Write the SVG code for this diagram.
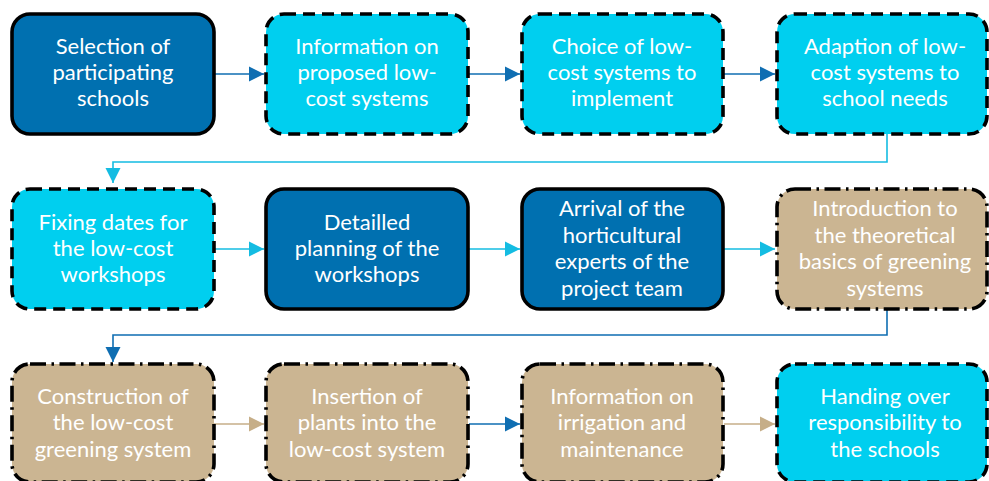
<svg xmlns="http://www.w3.org/2000/svg" width="989" height="481" viewBox="0 0 989 481">
<style>
.box{stroke:#000;stroke-width:3.6}
.solid{fill:#0070B0}
.dash{fill:#00CFEF;stroke-dasharray:12 7}
.dd{fill:#CBB592;stroke-dasharray:16 5.5 2.5 5.5}
text{font-family:Lato,"Open Sans","Liberation Sans",sans-serif;font-size:22px;fill:#fff;text-anchor:middle}
.c{fill:none;stroke-width:1.6}
.blue{stroke:#0F6EB2}
.cyan{stroke:#14BCE2}
.tan{stroke:#C6AE88}
</style>
<defs>
<marker id="aBlue" markerUnits="userSpaceOnUse" markerWidth="15" markerHeight="16" refX="15" refY="8" orient="auto"><path d="M0,0.5 L15,8 L0,15.5 Z" fill="#0F6EB2"/></marker>
<marker id="aCyan" markerUnits="userSpaceOnUse" markerWidth="15" markerHeight="16" refX="15" refY="8" orient="auto"><path d="M0,0.5 L15,8 L0,15.5 Z" fill="#14BCE2"/></marker>
<marker id="aTan" markerUnits="userSpaceOnUse" markerWidth="15" markerHeight="16" refX="15" refY="8" orient="auto"><path d="M0,0.5 L15,8 L0,15.5 Z" fill="#C6AE88"/></marker>
</defs>
<g id="connectors">
<path class="c blue" d="M214,74 H264" marker-end="url(#aBlue)"/>
<path class="c blue" d="M469,74 H520" marker-end="url(#aBlue)"/>
<path class="c blue" d="M724,74 H775" marker-end="url(#aBlue)"/>
<path class="c cyan" d="M887,134 V162 H113 V183" marker-end="url(#aCyan)"/>
<path class="c cyan" d="M214,249 H264" marker-end="url(#aCyan)"/>
<path class="c cyan" d="M469,249 H520" marker-end="url(#aCyan)"/>
<path class="c cyan" d="M724,249 H775" marker-end="url(#aCyan)"/>
<path class="c blue" d="M887,310 V335 H113 V362" marker-end="url(#aBlue)"/>
<path class="c tan" d="M214,424 H264" marker-end="url(#aTan)"/>
<path class="c blue" d="M469,424 H520" marker-end="url(#aBlue)"/>
<path class="c tan" d="M724,424 H775" marker-end="url(#aTan)"/>
</g>
<g id="n1"><rect class="box solid" x="12" y="14" width="202" height="120" rx="18"/>
<text x="113" y="54">Selection of</text><text x="113" y="80">participating</text><text x="113" y="106">schools</text></g>
<g id="n2"><rect class="box dash" x="266" y="14" width="202" height="120" rx="18"/>
<text x="367" y="54">Information on</text><text x="367" y="80">proposed low-</text><text x="367" y="106">cost systems</text></g>
<g id="n3"><rect class="box dash" x="522" y="14" width="201" height="120" rx="18"/>
<text x="622" y="54">Choice of low-</text><text x="622" y="80">cost systems to</text><text x="622" y="106">implement</text></g>
<g id="n4"><rect class="box dash" x="777" y="14" width="210" height="120" rx="18"/>
<text x="885" y="54">Adaption of low-</text><text x="885" y="80">cost systems to</text><text x="885" y="106">school needs</text></g>
<g id="n5"><rect class="box dash" x="12" y="189" width="202" height="120" rx="18"/>
<text x="113" y="230">Fixing dates for</text><text x="113" y="256">the low-cost</text><text x="113" y="282">workshops</text></g>
<g id="n6"><rect class="box solid" x="266" y="189" width="202" height="120" rx="18"/>
<text x="367" y="230">Detailled</text><text x="367" y="256">planning of the</text><text x="367" y="282">workshops</text></g>
<g id="n7"><rect class="box solid" x="522" y="189" width="201" height="120" rx="18"/>
<text x="622" y="216">Arrival of the</text><text x="622" y="242.5">horticultural</text><text x="622" y="269">experts of the</text><text x="622" y="295.5">project team</text></g>
<g id="n8"><rect class="box dd" x="777" y="189" width="210" height="120" rx="18"/>
<text x="885" y="216">Introduction to</text><text x="885" y="242.5">the theoretical</text><text x="885" y="269">basics of greening</text><text x="885" y="295.5">systems</text></g>
<g id="n9"><rect class="box dd" x="12" y="364" width="202" height="118" rx="18"/>
<text x="113" y="404">Construction of</text><text x="113" y="430">the low-cost</text><text x="113" y="457">greening system</text></g>
<g id="n10"><rect class="box dd" x="266" y="364" width="202" height="118" rx="18"/>
<text x="367" y="404">Insertion of</text><text x="367" y="430">plants into the</text><text x="367" y="457">low-cost system</text></g>
<g id="n11"><rect class="box dd" x="522" y="364" width="201" height="118" rx="18"/>
<text x="622" y="404">Information on</text><text x="622" y="430">irrigation and</text><text x="622" y="457">maintenance</text></g>
<g id="n12"><rect class="box dash" x="777" y="364" width="210" height="118" rx="18"/>
<text x="885" y="404">Handing over</text><text x="885" y="430">responsibility to</text><text x="885" y="457">the schools</text></g>
</svg>
